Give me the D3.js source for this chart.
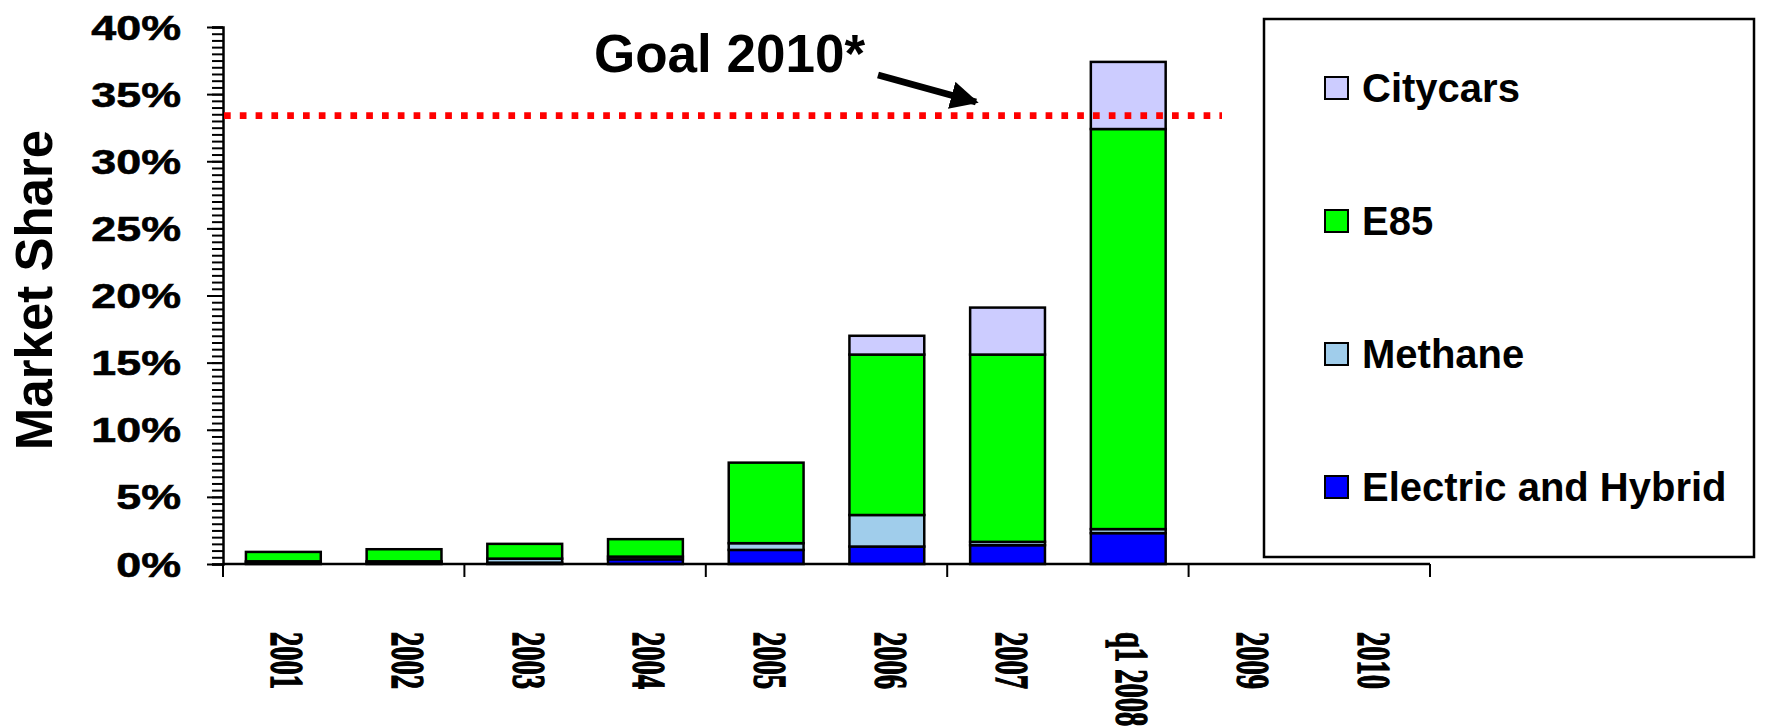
<!DOCTYPE html>
<html lang="en">
<head>
    <meta charset="UTF-8">
    <script src="https://d3js.org/d3.v7.min.js"></script>
    <title>Market Share</title>
    <style>
        body { margin: 0; background: #fff; }
        text { font-family: "Liberation Sans", Arial, sans-serif; font-weight: bold; }
        text.xlab { font-family: "Liberation Serif", "Times New Roman", serif; }
    </style>
</head>
<body>
    <script>
        // data (market share, %)
        var categories = ["2001", "2002", "2003", "2004", "2005", "2006", "2007", "q1 2008", "2009", "2010"];
        var electric = [0.1, 0.1, 0.1, 0.35, 1.05, 1.3, 1.4, 2.3, 0, 0];
        var methane  = [0.1, 0.1, 0.3, 0.2, 0.5, 2.35, 0.25, 0.3, 0, 0];
        var e85      = [0.7, 0.9, 1.1, 1.3, 6.0, 11.95, 13.95, 29.8, 0, 0];
        var citycars = [0, 0, 0, 0, 0, 1.4, 3.5, 5.0, 0, 0];
        var seriesNames = ["Electric and Hybrid", "Methane", "E85", "Citycars"];
        var seriesColors = ["#0000ff", "#a0cdeb", "#00ff00", "#ccccff"];
        var yTicks = [0, 5, 10, 15, 20, 25, 30, 35, 40];
        var goal = 33.4;

        var W = 1769, H = 727;
        var svg = d3.select("body").append("svg")
            .attr("width", W)
            .attr("height", H);

        var y = d3.scaleLinear().domain([0, 40]).range([564, 27]);
        var x = d3.scaleBand().domain(categories).range([223, 1430])
            .paddingInner(0.38).paddingOuter(0.19);

        var rows = categories.map(function(c, i) {
            return { cat: c, electric: electric[i], methane: methane[i], e85: e85[i], citycars: citycars[i] };
        });
        var keys = ["electric", "methane", "e85", "citycars"];
        var stack = d3.stack().keys(keys)(rows);

        // bars
        svg.selectAll("g.layer")
            .data(stack)
            .enter().append("g")
            .attr("class", "layer")
            .attr("fill", function(d, i) { return seriesColors[i]; })
            .selectAll("rect")
            .data(function(d) { return d.filter(function(p) { return p[1] - p[0] > 0; }); })
            .enter().append("rect")
            .attr("x", function(d) { return x(d.data.cat); })
            .attr("width", x.bandwidth())
            .attr("y", function(d) { return y(d[1]); })
            .attr("height", function(d) { return y(d[0]) - y(d[1]); })
            .attr("stroke", "#000")
            .attr("stroke-width", 2.5);

        // y axis: minor ticks every 0.5%
        svg.append("g")
            .attr("transform", "translate(223,0)")
            .call(d3.axisLeft(y).tickValues(d3.range(0, 40.01, 0.5)).tickSize(11).tickFormat(""))
            .call(function(g) {
                g.select(".domain").attr("stroke-width", 2.5);
                g.selectAll(".tick line").attr("stroke-width", 2);
            });
        svg.append("g")
            .attr("transform", "translate(223,0)")
            .call(d3.axisLeft(y).tickValues(yTicks).tickSize(16).tickFormat(""))
            .call(function(g) {
                g.select(".domain").remove();
                g.selectAll(".tick line").attr("stroke-width", 2);
            });

        // y tick labels (stretched wide like the original)
        svg.selectAll("text.ylab")
            .data(yTicks)
            .enter().append("text")
            .attr("class", "ylab")
            .attr("transform", function(d) { return "translate(181," + (y(d) + 12.5) + ") scale(1.28,1)"; })
            .attr("text-anchor", "end")
            .attr("font-size", 35)
            .attr("stroke", "#000")
            .attr("stroke-width", 0.6)
            .text(function(d) { return d + "%"; });

        // x axis
        var step = x.step();
        var xTickPos = d3.range(0, categories.length + 1, 2).map(function(i) { return 223 + i * step; });
        svg.append("line")
            .attr("x1", 223).attr("x2", 1430)
            .attr("y1", 564).attr("y2", 564)
            .attr("stroke", "#000").attr("stroke-width", 2.5);
        svg.selectAll("line.xtick")
            .data(xTickPos)
            .enter().append("line")
            .attr("class", "xtick")
            .attr("x1", function(d) { return d; }).attr("x2", function(d) { return d; })
            .attr("y1", 564).attr("y2", 577)
            .attr("stroke", "#000").attr("stroke-width", 2);

        svg.selectAll("text.xlab")
            .data(categories)
            .enter().append("text")
            .attr("class", "xlab")
            .attr("transform", function(d) {
                return "translate(" + (x(d) + x.bandwidth() / 2 - 12) + ",632) scale(1.6,1) rotate(90)";
            })
            .attr("font-size", 28.5)
            .attr("stroke", "#000")
            .attr("stroke-width", 0.9)
            .text(function(d) { return d; });

        // axis title
        svg.append("text")
            .attr("transform", "translate(52,290) rotate(-90)")
            .attr("text-anchor", "middle")
            .attr("font-size", 51)
            .text("Market Share");

        // goal line
        svg.append("line")
            .attr("x1", 224).attr("x2", 1222)
            .attr("y1", y(goal)).attr("y2", y(goal))
            .attr("stroke", "#ff0000")
            .attr("stroke-width", 6.7)
            .attr("stroke-dasharray", "6.7,9.1");

        svg.append("text")
            .attr("x", 594).attr("y", 72)
            .attr("font-size", 53)
            .text("Goal 2010*");

        svg.append("defs").append("marker")
            .attr("id", "head")
            .attr("viewBox", "0 0 10 10")
            .attr("refX", 9).attr("refY", 5)
            .attr("markerWidth", 4).attr("markerHeight", 4)
            .attr("markerUnits", "strokeWidth")
            .attr("orient", "auto")
            .append("path").attr("d", "M0,0L10,5L0,10z").attr("fill", "#000");
        svg.append("line")
            .attr("x1", 878).attr("y1", 75)
            .attr("x2", 976).attr("y2", 102)
            .attr("stroke", "#000").attr("stroke-width", 7)
            .attr("marker-end", "url(#head)");

        // legend
        svg.append("rect")
            .attr("x", 1264).attr("y", 19)
            .attr("width", 490).attr("height", 538)
            .attr("fill", "#fff").attr("stroke", "#000").attr("stroke-width", 2.5);

        var legendOrder = [3, 2, 1, 0];
        var lg = svg.selectAll("g.leg")
            .data(legendOrder)
            .enter().append("g")
            .attr("class", "leg")
            .attr("transform", function(d, i) { return "translate(1325," + (77 + i * 133) + ")"; });
        lg.append("rect")
            .attr("width", 23).attr("height", 22)
            .attr("fill", function(d) { return seriesColors[d]; })
            .attr("stroke", "#000").attr("stroke-width", 2);
        lg.append("text")
            .attr("x", 37).attr("y", 25)
            .attr("font-size", 40)
            .text(function(d) { return seriesNames[d]; });
    </script>
</body>
</html>
